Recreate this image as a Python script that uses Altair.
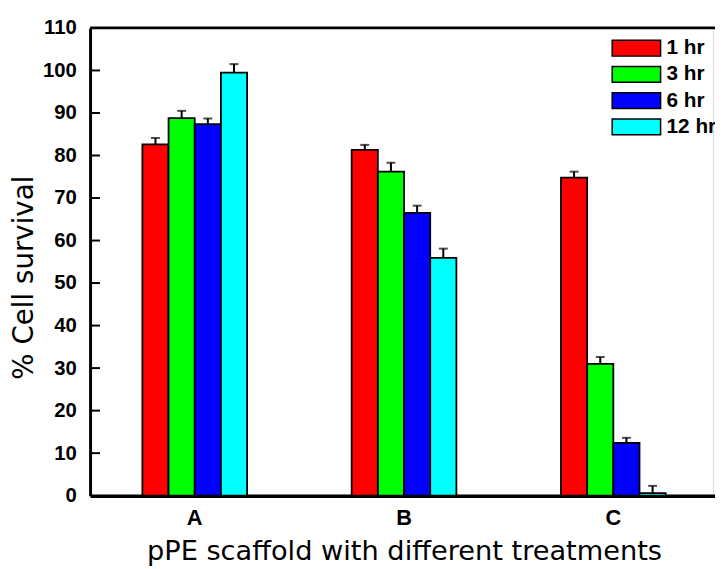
import altair as alt
import pandas as pd

groups = ["A", "B", "C"]
times = ["1 hr", "3 hr", "6 hr", "12 hr"]
colors = ["#FF0000", "#00FF00", "#0000FF", "#00FFFF"]
values = {
    "A": [82.6, 88.8, 87.4, 99.5],
    "B": [81.3, 76.2, 66.5, 55.9],
    "C": [74.8, 31.0, 12.4, 0.6],
}
errors = {
    "A": [1.5, 1.7, 1.3, 2.0],
    "B": [1.2, 2.1, 1.7, 2.2],
    "C": [1.4, 1.6, 1.2, 1.7],
}
y_ticks = [0, 10, 20, 30, 40, 50, 60, 70, 80, 90, 100, 110]
inner_ticks = [10, 20, 30, 40, 50, 60, 70, 80, 90, 100]

rows = []
for g in groups:
    for t, v, e in zip(times, values[g], errors[g]):
        rows.append({"group": g, "time": t, "value": v, "upper": v + e})
df = pd.DataFrame(rows)
tick_df = pd.DataFrame({"v": inner_ticks})

W, H = 630, 473
YT = "% Cell survival"
XT = "pPE scaffold with different treatments"

xscale = alt.Scale(domain=groups, range=[0, 635], paddingInner=0, paddingOuter=0)
yscale = alt.Scale(domain=[0, 110], nice=False, zero=True)
offscale = alt.Scale(domain=times, range=[52.9, 158.8], paddingInner=0, paddingOuter=0)

x_axis = alt.Axis(
    labelAngle=0, labelFont="Liberation Sans", labelFontWeight="bold",
    labelFontSize=22, labelColor="black", labelPadding=12, ticks=False, tickSize=0,
    domainColor="black", domainWidth=3.5,
    titleFont="DejaVu Sans", titleFontWeight="normal", titleFontSize=27.5,
    titleColor="black", titleBaseline="alphabetic", titleY=65,
)
y_axis = alt.Axis(
    values=y_ticks, labelFont="Liberation Sans", labelFontWeight="bold",
    labelFontSize=20.5, labelColor="black", labelPadding=14, ticks=False, tickSize=0,
    domainColor="black", domainWidth=3, grid=False,
    titleFont="DejaVu Sans", titleFontWeight="normal", titleFontSize=28,
    titleColor="black", titleAngle=270, titleBaseline="alphabetic",
    titleAlign="center", titleX=-58, titleY=252,
)

base = alt.Chart(df)

bars = base.mark_bar(stroke="black", strokeWidth=1.8).encode(
    x=alt.X("group:N", scale=xscale, axis=x_axis, title=XT),
    xOffset=alt.XOffset("time:N", scale=offscale, sort=times),
    y=alt.Y("value:Q", scale=yscale, axis=y_axis, title=YT),
    fill=alt.Fill(
        "time:N", sort=times,
        scale=alt.Scale(domain=times, range=colors),
        legend=alt.Legend(
            title=None, orient="none", legendX=542, legendY=10,
            symbolType="M-3.06,-1H3.06V1H-3.06Z", symbolSize=256,
            symbolStrokeColor="black", symbolStrokeWidth=1.5, symbolOpacity=1,
            labelFont="Liberation Sans", labelFontWeight="bold",
            labelFontSize=21, labelColor="black", labelOffset=20,
            rowPadding=3.5, padding=0,
        ),
    ),
)

err = base.mark_rule(color="black", strokeWidth=2).encode(
    x=alt.X("group:N", scale=xscale, title=XT),
    xOffset=alt.XOffset("time:N", scale=offscale, sort=times),
    y=alt.Y("value:Q", scale=yscale, title=YT),
    y2="upper:Q",
)

caps = base.mark_tick(color="black", thickness=2, size=9).encode(
    x=alt.X("group:N", scale=xscale, title=XT),
    xOffset=alt.XOffset("time:N", scale=offscale, sort=times),
    y=alt.Y("upper:Q", scale=yscale, title=YT),
)

yin = alt.Chart(tick_df).mark_rule(color="black", strokeWidth=2).encode(
    x=alt.value(0), x2=alt.value(10),
    y=alt.Y("v:Q", scale=yscale, title=YT),
)

xin = alt.Chart(pd.DataFrame({"group": groups})).mark_rule(color="black", strokeWidth=2).encode(
    x=alt.X("group:N", scale=xscale, title=XT),
    y=alt.value(H), y2=alt.value(H - 5),
)

top = alt.Chart(alt.Data(values=[{"a": 1}])).mark_rule(color="black", strokeWidth=2.7).encode(
    x=alt.value(0), x2=alt.value(W + 2), y=alt.value(0),
)

chart = alt.layer(bars, err, caps, yin, xin, top).properties(
    width=W, height=H,
    autosize=alt.AutoSizeParams(type="none"),
    padding={"left": 83, "top": 17, "right": 2, "bottom": 71},
).configure_view(stroke=None).configure(background="white")

chart.save("out.html", embed_options={"renderer": "svg", "actions": False})
